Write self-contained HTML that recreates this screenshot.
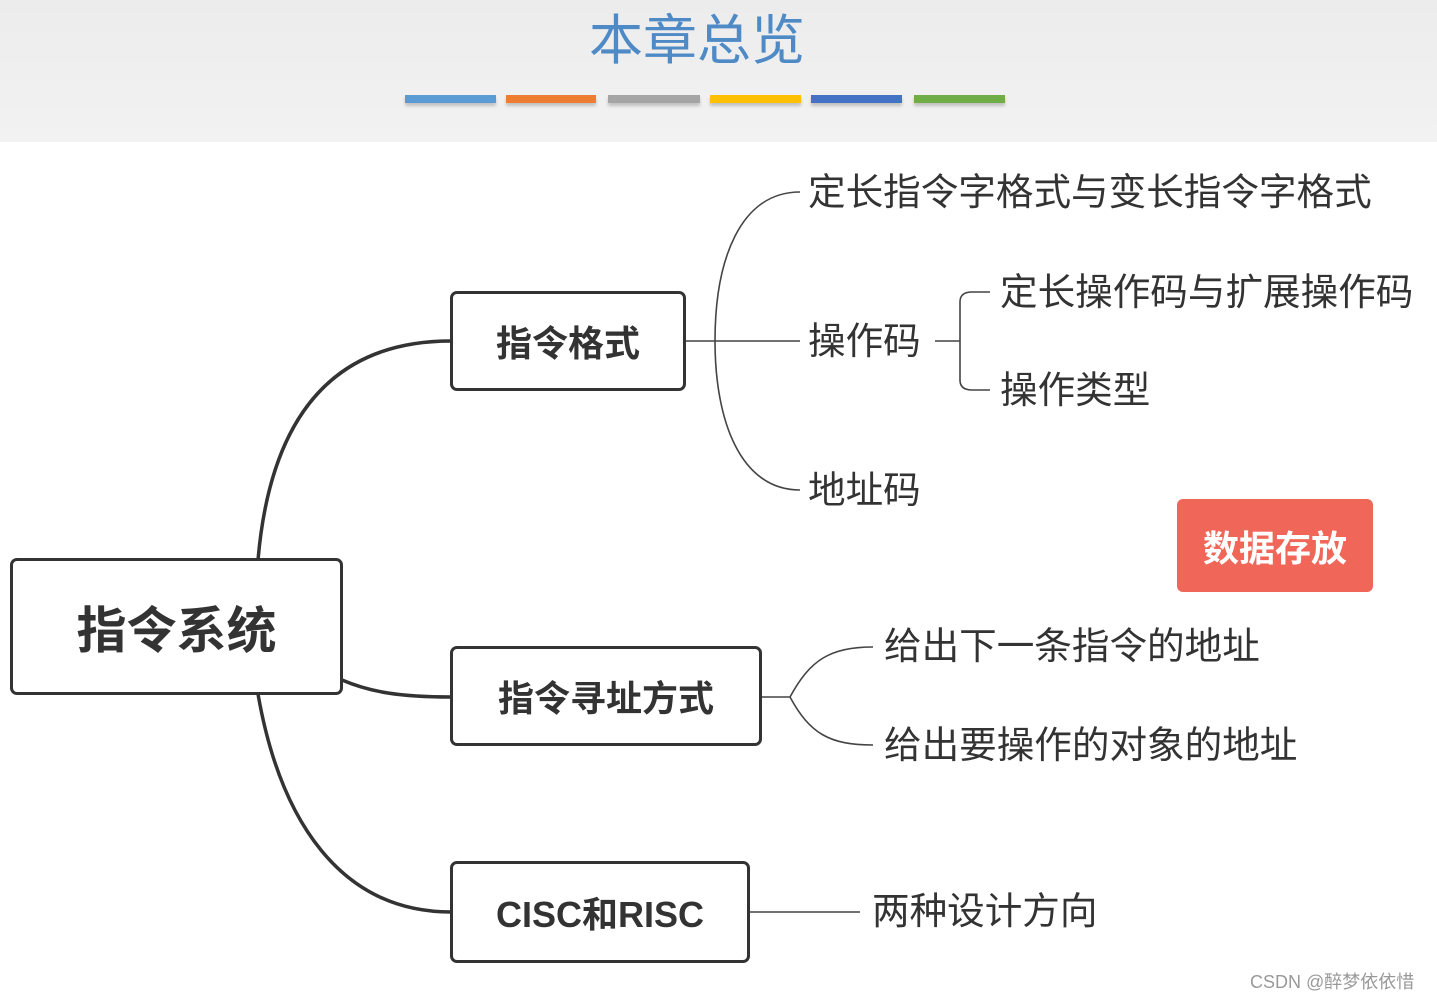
<!DOCTYPE html>
<html><head><meta charset="utf-8"><style>
html,body{margin:0;padding:0;width:1437px;height:1002px;overflow:hidden;background:#fff;font-family:"Liberation Sans","Noto Sans CJK SC",sans-serif;}
.hdr{position:absolute;left:0;top:0;width:1437px;height:142px;background:linear-gradient(#ececec,#f2f2f2);}
.title{position:absolute;left:0;width:1394px;top:0px;text-align:center;font-family:"Noto Sans CJK SC",sans-serif;font-size:54px;line-height:72px;color:#4d8ac6;}
.bar{position:absolute;top:95px;height:8px;box-shadow:0 3px 3px rgba(0,0,0,.2);}
.box{position:absolute;border:3.5px solid #333;border-radius:7px;background:#fff;box-sizing:border-box;display:flex;align-items:center;justify-content:center;color:#333;font-weight:bold;}
.t{position:absolute;color:#333;font-size:35px;white-space:nowrap;line-height:1;}
</style></head><body>
<div class="hdr"></div>
<div class="title">本章总览</div>
<div class="bar" style="left:405px;width:91px;background:#5b9bd5"></div>
<div class="bar" style="left:506px;width:90px;background:#ed7d31"></div>
<div class="bar" style="left:608px;width:92px;background:#a5a5a5"></div>
<div class="bar" style="left:710px;width:91px;background:#ffc000"></div>
<div class="bar" style="left:811px;width:91px;background:#4472c4"></div>
<div class="bar" style="left:914px;width:91px;background:#70ad47"></div>

<svg width="1437" height="1002" style="position:absolute;left:0;top:0">
<g fill="none" stroke="#333" stroke-width="3.5">
<path d="M258 560 C270 420 330 341 451 341"/>
<path d="M342 680 C370 692 400 697 451 697"/>
<path d="M258 694 C280 820 340 912 451 912"/>
</g>
<g fill="none" stroke="#444" stroke-width="1.6">
<path d="M685 341 H800"/>
<path d="M715 341 C715 260 740 192 800 192"/>
<path d="M715 341 C715 420 740 490 800 490"/>
<path d="M935 341 H960"/>
<path d="M960 341 V302 Q960 292 972 292 H990"/>
<path d="M960 341 V380 Q960 390 972 390 H990"/>
<path d="M761 697 H790"/>
<path d="M790 697 C810 660 830 647 873 647"/>
<path d="M790 697 C810 734 830 745 873 745"/>
<path d="M749 912 H860"/>
</g>
</svg>

<div class="box" style="left:10px;top:558px;width:333px;height:137px;font-size:50px">指令系统</div>
<div class="box" style="left:450px;top:291px;width:236px;height:100px;font-size:36px">指令格式</div>
<div class="box" style="left:450px;top:646px;width:312px;height:100px;font-size:36px">指令寻址方式</div>
<div class="box" style="left:450px;top:861px;width:300px;height:102px;font-size:36px">CISC和RISC</div>
<div style="position:absolute;left:1177px;top:499px;width:196px;height:93px;background:#f0675a;border-radius:6px;color:#fff;font-size:36px;font-weight:bold;display:flex;align-items:center;justify-content:center">数据存放</div>

<div class="t" style="left:808px;top:174px;font-size:37.6px">定长指令字格式与变长指令字格式</div>
<div class="t" style="left:808px;top:323px;font-size:37.6px">操作码</div>
<div class="t" style="left:808px;top:472px;font-size:37.6px">地址码</div>
<div class="t" style="left:1000px;top:274px;font-size:37.6px">定长操作码与扩展操作码</div>
<div class="t" style="left:1000px;top:372px;font-size:37.6px">操作类型</div>
<div class="t" style="left:884px;top:628px;font-size:37.6px">给出下一条指令的地址</div>
<div class="t" style="left:884px;top:727px;font-size:37.6px">给出要操作的对象的地址</div>
<div class="t" style="left:872px;top:893px;font-size:37.6px">两种设计方向</div>
<div class="t" style="left:1250px;top:973px;font-size:18px;color:#999">CSDN @醉梦依依惜</div>
</body></html>
